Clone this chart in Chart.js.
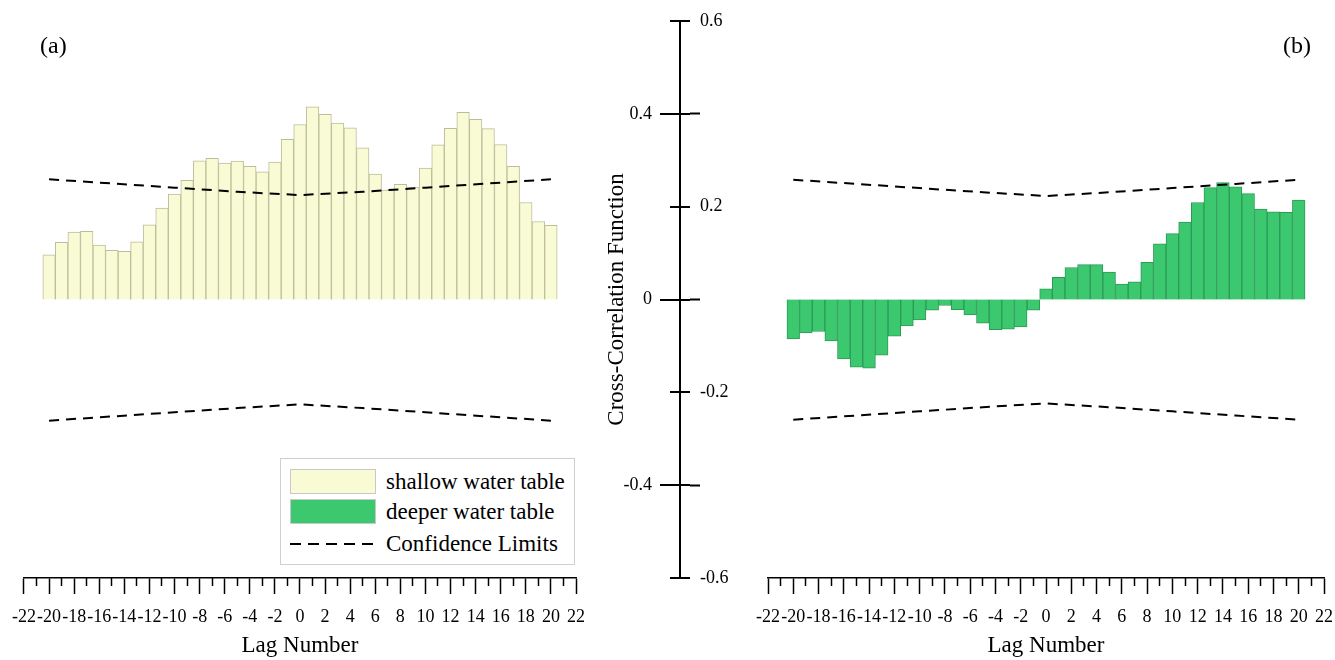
<!DOCTYPE html>
<html>
<head>
<meta charset="utf-8">
<script src="https://cdn.jsdelivr.net/npm/chart.js@4.4.1/dist/chart.umd.min.js"></script>
<style>
  html, body { margin: 0; padding: 0; background: #fff; }
  body { width: 1335px; height: 660px; position: relative; overflow: hidden; font-family: "Liberation Serif", serif; }
  canvas { position: absolute; top: 0; }
  #chartA { left: 0; }
  #chartMid { left: 600px; }
  #chartB { left: 740px; }
  .panel-tag { position: absolute; top: 32px; font-size: 24px; color: #000; }
  #legend { position: absolute; left: 280px; top: 458px; width: 293px; height: 105px; border: 1px solid #cfcfcf; background: #fff; }
  .lg-row { position: absolute; left: 9px; height: 27px; display: flex; align-items: center; font-size: 23px; color: #000; }
  .lg-swatch { width: 86px; height: 25px; box-sizing: border-box; border: 1px solid #c8c8c8; margin-right: 10px; }
  .lg-dash { width: 86px; height: 2px; margin-right: 10px; }
</style>
</head>
<body>
<canvas id="chartA" width="600" height="660"></canvas>
<canvas id="chartMid" width="140" height="660"></canvas>
<canvas id="chartB" width="605" height="660"></canvas>
<div class="panel-tag" style="left:40px">(a)</div>
<div class="panel-tag" style="left:1283px">(b)</div>
<div id="legend"></div>
<script>
// lag numbers of the bars
const lags = [-20, -19, -18, -17, -16, -15, -14, -13, -12, -11, -10, -9, -8, -7, -6, -5, -4, -3, -2, -1,
  0, 1, 2, 3, 4, 5, 6, 7, 8, 9, 10, 11, 12, 13, 14, 15, 16, 17, 18, 19, 20];

// (a) shallow water table CCF
const shallowValues = [0.096, 0.123, 0.145, 0.147, 0.117, 0.106, 0.104, 0.124, 0.161, 0.197,
  0.227, 0.257, 0.299, 0.304, 0.294, 0.298, 0.287, 0.275, 0.296, 0.345,
  0.377, 0.415, 0.399, 0.380, 0.370, 0.327, 0.270, 0.236, 0.248, 0.242,
  0.283, 0.333, 0.369, 0.403, 0.388, 0.368, 0.334, 0.287, 0.209, 0.168, 0.160];

// (b) deeper water table CCF
const deeperValues = [-0.085, -0.072, -0.069, -0.089, -0.128, -0.146, -0.148, -0.120, -0.079, -0.057,
  -0.044, -0.023, -0.013, -0.022, -0.033, -0.051, -0.065, -0.064, -0.059, -0.023,
  0.023, 0.048, 0.069, 0.075, 0.075, 0.059, 0.033, 0.038, 0.080, 0.120,
  0.142, 0.167, 0.209, 0.241, 0.252, 0.243, 0.228, 0.195, 0.189, 0.188, 0.214];

// confidence limits
const confLags = [-20, -15, -10, -5, 0, 5, 10, 15, 20];
const upperA = [0.259, 0.250, 0.241, 0.232, 0.225, 0.232, 0.241, 0.250, 0.259];
const lowerA = [-0.261, -0.252, -0.243, -0.234, -0.226, -0.234, -0.243, -0.252, -0.261];
const upperB = [0.258, 0.249, 0.240, 0.231, 0.223, 0.231, 0.240, 0.249, 0.258];
const lowerB = [-0.259, -0.250, -0.241, -0.232, -0.224, -0.232, -0.241, -0.250, -0.259];

// axis ticks
const lagTicks = [-22, -21, -20, -19, -18, -17, -16, -15, -14, -13, -12, -11, -10, -9, -8, -7, -6, -5, -4, -3, -2, -1,
  0, 1, 2, 3, 4, 5, 6, 7, 8, 9, 10, 11, 12, 13, 14, 15, 16, 17, 18, 19, 20, 21, 22];
const ccfTicks = [-0.6, -0.4, -0.2, 0, 0.2, 0.4, 0.6];
const ccfLeftLabels = { "-0.4": "-0.4", "0": "0", "0.4": "0.4" };
const ccfRightLabels = { "-0.6": "-0.6", "-0.2": "-0.2", "0.2": "0.2", "0.6": "0.6" };

const serif = "Liberation Serif";
const clear = "rgba(0,0,0,0)";
const shallowFill = "#f8fbd3";
const shallowEdge = "#bdbd9c";
const deeperFill = "#3cc86f";
const deeperEdge = "#2c9a55";
const dash = [10, 7];

function points(xs, ys) {
  return xs.map((x, i) => ({ x: x, y: ys[i] }));
}

function panelConfig(label, values, fill, edge, upper, lower, padLeft, padRight) {
  return {
    type: "bar",
    data: {
      datasets: [
        {
          label: label,
          data: points(lags, values),
          backgroundColor: fill,
          borderColor: edge,
          borderWidth: 1,
          barPercentage: 1,
          categoryPercentage: 1,
          order: 2
        },
        {
          type: "line",
          label: "Confidence Limits",
          data: points(confLags, upper),
          borderColor: "#000",
          borderWidth: 2,
          borderDash: dash,
          pointRadius: 0,
          fill: false,
          order: 1
        },
        {
          type: "line",
          label: "Confidence Limits",
          data: points(confLags, lower),
          borderColor: "#000",
          borderWidth: 2,
          borderDash: dash,
          pointRadius: 0,
          fill: false,
          order: 1
        }
      ]
    },
    options: {
      responsive: false,
      animation: false,
      layout: { padding: { left: padLeft, right: padRight, top: 21, bottom: 0 } },
      plugins: { legend: { display: false }, tooltip: { enabled: false } },
      scales: {
        y: { display: false, min: -0.6, max: 0.6 },
        xMinor: {
          type: "linear",
          position: "bottom",
          weight: 0,
          offset: false,
          min: -22,
          max: 22,
          afterBuildTicks: (axis) => { axis.ticks = lagTicks.map((v) => ({ value: v })); },
          afterFit: (axis) => { axis.height = 0; },
          ticks: { display: false },
          border: { display: false },
          grid: {
            offset: false,
            drawOnChartArea: false,
            tickLength: 8,
            tickWidth: 1.5,
            tickColor: (ctx) => (ctx.tick && Math.abs(ctx.tick.value % 2) === 1 ? "#000" : clear)
          }
        },
        x: {
          type: "linear",
          position: "bottom",
          weight: 1,
          offset: false,
          min: -22,
          max: 22,
          afterBuildTicks: (axis) => { axis.ticks = lagTicks.map((v) => ({ value: v })); },
          afterFit: (axis) => { axis.height = 82; },
          ticks: {
            autoSkip: false,
            maxRotation: 0,
            padding: 12,
            color: "#000",
            font: { family: serif, size: 18 },
            callback: (v) => (v % 2 === 0 ? String(v) : "")
          },
          border: { display: true, color: "#000", width: 1.5 },
          grid: {
            offset: false,
            drawOnChartArea: false,
            tickLength: 16,
            tickWidth: 1.5,
            tickColor: (ctx) => (ctx.tick && ctx.tick.value % 2 === 0 ? "#000" : clear)
          },
          title: {
            display: true,
            text: "Lag Number",
            color: "#000",
            font: { family: serif, size: 23 },
            padding: { top: 0, bottom: 0 }
          }
        }
      }
    }
  };
}

const chartA = new Chart(document.getElementById("chartA"),
  panelConfig("shallow water table", shallowValues, shallowFill, shallowEdge, upperA, lowerA, 20, 24));

const chartB = new Chart(document.getElementById("chartB"),
  panelConfig("deeper water table", deeperValues, deeperFill, deeperEdge, upperB, lowerB, 28, 19));

// shared vertical axis in the middle
const isMajor = (v) => ccfLeftLabels[String(v)] !== undefined;

const chartMid = new Chart(document.getElementById("chartMid"), {
  type: "bar",
  data: { datasets: [] },
  options: {
    responsive: false,
    animation: false,
    layout: { padding: { left: 0, right: 0, top: 21, bottom: 82 } },
    plugins: { legend: { display: false }, tooltip: { enabled: false } },
    scales: {
      x: {
        type: "linear",
        position: "bottom",
        offset: false,
        min: -1,
        max: 1,
        afterBuildTicks: (axis) => { axis.ticks = [{ value: 0 }]; },
        afterFit: (axis) => { axis.height = 0; },
        ticks: { display: false },
        border: { display: false },
        grid: { offset: false, drawTicks: false, color: "#000", lineWidth: 2 }
      },
      yL: {
        type: "linear",
        position: "left",
        min: -0.6,
        max: 0.6,
        afterBuildTicks: (axis) => { axis.ticks = ccfTicks.map((v) => ({ value: v })); },
        afterFit: (axis) => { axis.width = 70; },
        ticks: {
          padding: 8,
          color: "#000",
          font: { family: serif, size: 18 },
          callback: (v) => ccfLeftLabels[String(v)] || ""
        },
        border: { display: false },
        grid: {
          drawOnChartArea: true,
          color: "#000",
          lineWidth: 2,
          tickLength: 10,
          tickWidth: 2,
          tickColor: (ctx) => (ctx.tick && isMajor(ctx.tick.value) ? "#000" : clear)
        },
        title: {
          display: true,
          text: "Cross-Correlation Function",
          color: "#000",
          font: { family: serif, size: 23 },
          padding: { top: 3, bottom: 0 }
        }
      },
      yR: {
        type: "linear",
        position: "right",
        min: -0.6,
        max: 0.6,
        afterBuildTicks: (axis) => { axis.ticks = ccfTicks.map((v) => ({ value: v })); },
        afterFit: (axis) => { axis.width = 50; },
        ticks: {
          padding: 0,
          color: "#000",
          font: { family: serif, size: 18 },
          callback: (v) => ccfRightLabels[String(v)] || ""
        },
        border: { display: false },
        grid: {
          drawOnChartArea: false,
          tickLength: 10,
          tickWidth: 2,
          tickColor: (ctx) => (ctx.tick && isMajor(ctx.tick.value) ? "#000" : clear)
        }
      }
    }
  }
});

// legend built from the chart datasets
function buildLegend() {
  const box = document.getElementById("legend");
  const items = [
    { ds: chartA.data.datasets[0], kind: "box" },
    { ds: chartB.data.datasets[0], kind: "box" },
    { ds: chartA.data.datasets[1], kind: "dash" }
  ];
  const tops = [9, 39, 71];
  items.forEach((item, i) => {
    const row = document.createElement("div");
    row.className = "lg-row";
    row.style.top = tops[i] + "px";
    const mark = document.createElement("div");
    if (item.kind === "box") {
      mark.className = "lg-swatch";
      mark.style.background = item.ds.backgroundColor;
    } else {
      mark.className = "lg-dash";
      mark.style.background = "repeating-linear-gradient(to right, " + item.ds.borderColor +
        " 0 11px, transparent 11px 18px)";
    }
    const text = document.createElement("span");
    text.textContent = item.ds.label;
    row.appendChild(mark);
    row.appendChild(text);
    box.appendChild(row);
  });
}

buildLegend();
</script>
</body>
</html>
